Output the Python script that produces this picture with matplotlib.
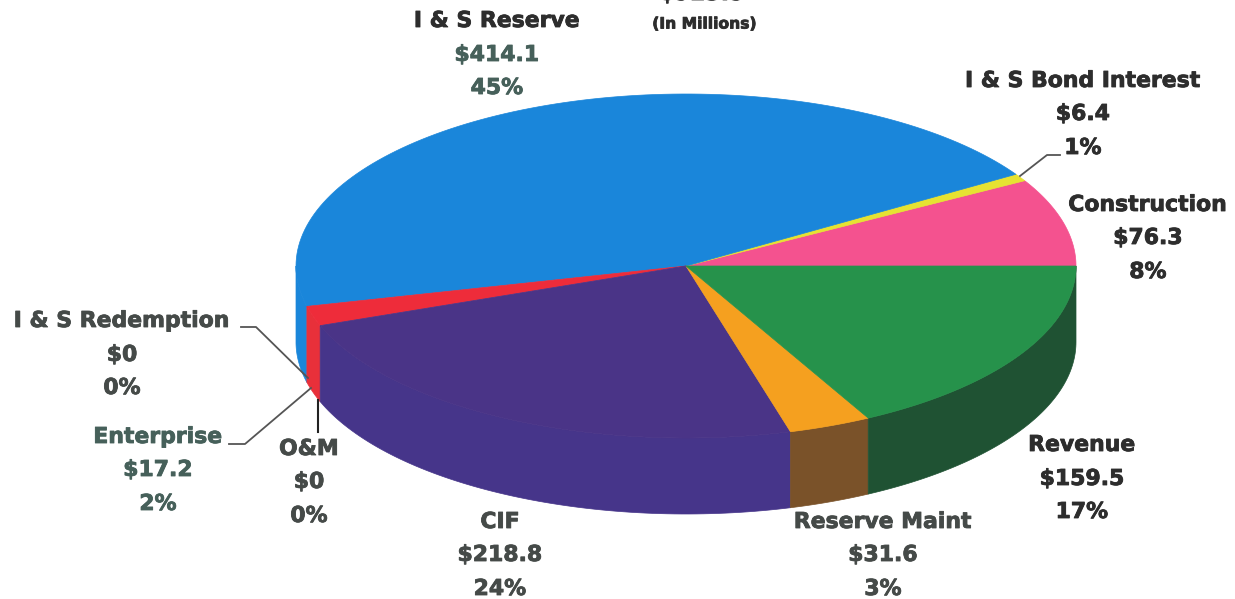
import numpy as np
import matplotlib
matplotlib.use("Agg")
import matplotlib.pyplot as plt
import matplotlib.patheffects as pe

plt.rcParams['font.family'] = ['DejaVu Sans']

# Fund balances in millions, counter-clockwise from the east edge of the pie
funds = ["Construction", "I & S Bond Interest", "I & S Reserve", "I & S Redemption",
         "Enterprise", "O&M", "CIF", "Reserve Maint", "Revenue"]
balances = [76.3, 6.4, 414.1, 0, 17.2, 0, 218.8, 31.6, 159.5]
top_colors = ["#f4528f", "#e6e232", "#1a86da", "#ee2c3a", "#ee2c3a", "#4a3487",
              "#4a3487", "#f5a01f", "#26924b"]
side_colors = ["#c0406f", "#b0ad20", "#1a86da", "#e8303a", "#e8303a", "#46358a",
               "#46358a", "#7a5229", "#1f5233"]
total_label = "$923.5"
units_label = "(In Millions)"

DARK = "#2d2d2d"
GREY = "#454a48"
SLATE = "#46605a"

# center x, y of the three lines, colour of name and colour of the value lines
label_layout = {
    "I & S Reserve": (497, (21, 55, 88), DARK, SLATE),
    "I & S Bond Interest": (1083, (81, 114, 148), DARK, DARK),
    "Construction": (1148, (205, 238, 272), DARK, DARK),
    "Revenue": (1082, (445, 479, 512), DARK, DARK),
    "Reserve Maint": (883, (522, 555, 589), GREY, GREY),
    "CIF": (500, (522, 555, 589), GREY, GREY),
    "O&M": (309, (449, 482, 516), GREY, GREY),
    "Enterprise": (158, (437, 470, 504), SLATE, SLATE),
    "I & S Redemption": (122, (321, 355, 388), GREY, GREY),
}

CX, CY = 686, 266
RX, RY = 390, 172
DEPTH = 76
FONT = 15.8


def ellipse(deg):
    t = np.radians(deg)
    return CX + RX * np.cos(t), CY - RY * np.sin(t)


def label(x, y, s, color, size=FONT):
    # thin outline in the text colour makes the bold heavier
    ax.text(x, y, s, ha="center", va="center", fontsize=size, fontweight="bold", color=color,
            path_effects=[pe.withStroke(linewidth=0.6, foreground=color)])


fig = plt.figure(figsize=(12.35, 5.99), dpi=100)
ax = fig.add_axes([0, 0, 1, 1])
ax.set_xlim(0, 1235)
ax.set_ylim(599, 0)
ax.axis("off")

total = sum(balances)
edges = np.concatenate([[0], np.cumsum(balances)]) / total * 360

# sides first, only the front half of the rim shows
for i in range(len(funds)):
    a, b = max(edges[i], 180), max(edges[i + 1], 180)
    if b <= a:
        continue
    x, y = ellipse(np.linspace(a, b, 80))
    ax.fill(np.r_[x, x[::-1]], np.r_[y, y[::-1] + DEPTH], color=side_colors[i], lw=0.5)

# top faces
for i in range(len(funds)):
    if balances[i] == 0:
        continue
    x, y = ellipse(np.linspace(edges[i], edges[i + 1], 120))
    ax.fill(np.r_[CX, x], np.r_[CY, y], color=top_colors[i], lw=0.5)

# leader lines
ax.plot([1060, 1047, 1020], [155, 155, 176], color="#555555", lw=1.3)
ax.plot([241, 256, 308], [327, 327, 378], color="#555555", lw=1.3)
ax.plot([229, 245, 311], [444, 444, 388], color="#555555", lw=1.3)
ax.plot([318, 318], [400, 432], color="#222222", lw=1.5)

for name, value in zip(funds, balances):
    cx, ys, name_color, value_color = label_layout[name]
    label(cx, ys[0], name, name_color)
    label(cx, ys[1], f"${value:g}", value_color)
    label(cx, ys[2], f"{value / total * 100:.0f}%", value_color)

# heading sits at the very top, its first line runs off the edge
label(702, -6, total_label, DARK)
label(704, 24, units_label, DARK, size=11.2)

fig.savefig("out.png", dpi=100)
